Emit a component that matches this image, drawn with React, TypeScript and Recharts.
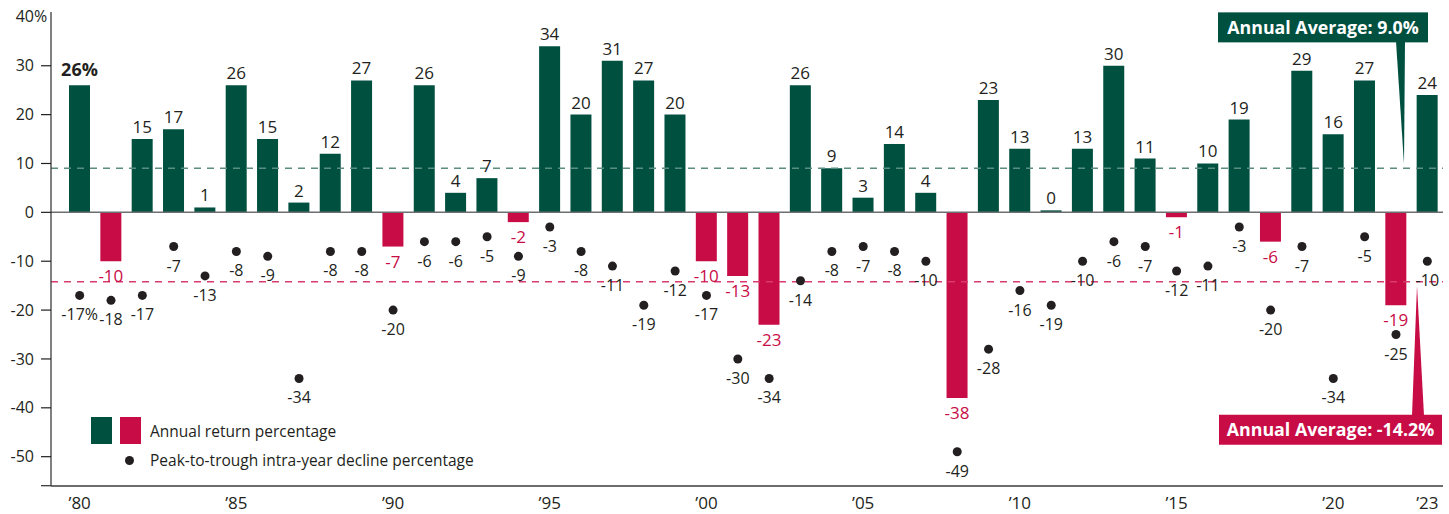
import React from 'react';
import { ComposedChart, Bar, Line, XAxis, YAxis, ReferenceLine, Cell, LabelList } from 'recharts';

const years = [
  1980, 1981, 1982, 1983, 1984, 1985, 1986, 1987, 1988, 1989,
  1990, 1991, 1992, 1993, 1994, 1995, 1996, 1997, 1998, 1999,
  2000, 2001, 2002, 2003, 2004, 2005, 2006, 2007, 2008, 2009,
  2010, 2011, 2012, 2013, 2014, 2015, 2016, 2017, 2018, 2019,
  2020, 2021, 2022, 2023,
];
const annualReturns = [
  26, -10, 15, 17, 1, 26, 15, 2, 12, 27,
  -7, 26, 4, 7, -2, 34, 20, 31, 27, 20,
  -10, -13, -23, 26, 9, 3, 14, 4, -38, 23,
  13, 0, 13, 30, 11, -1, 10, 19, -6, 29,
  16, 27, -19, 24,
];
const intraYearDeclines = [
  -17, -18, -17, -7, -13, -8, -9, -34, -8, -8,
  -20, -6, -6, -5, -9, -3, -8, -11, -19, -12,
  -17, -30, -34, -14, -8, -7, -8, -10, -49, -28,
  -16, -19, -10, -6, -7, -12, -11, -3, -20, -7,
  -34, -5, -25, -10,
];
const yTicks = [-50, -40, -30, -20, -10, 0, 10, 20, 30, 40];
const xTickYears = [1980, 1985, 1990, 1995, 2000, 2005, 2010, 2015, 2020, 2023];
const xTickLabels = ['’80', '’85', '’90', '’95', '’00', '’05', '’10', '’15', '’20', '’23'];
const returnAverage = 9.0;
const declineAverage = -14.2;

const GREEN = '#005040';
const RED = '#c80c46';
const INK = '#231f20';
const FONT = '"Open Sans", sans-serif';

const data = years.map((year, i) => ({
  year,
  ret: annualReturns[i],
  decline: intraYearDeclines[i],
}));

const YTick = (props: any) => {
  const { x, y, payload } = props;
  const v = payload.value;
  return (
    <g>
      {v !== 40 && <line x1={x - 10} x2={x} y1={y} y2={y} stroke={INK} strokeWidth={1.2} />}
      <text x={x - 17} y={y} dy="0.35em" textAnchor="end" fontSize={16} fill={INK} fontFamily={FONT}>
        {v}
      </text>
      {v === 40 && (
        <text x={x - 17} y={y} dy="0.35em" textAnchor="start" fontSize={16} fill={INK} fontFamily={FONT}>
          %
        </text>
      )}
      {/* x axis line runs out to the tick marks on the left */}
      {v === -50 && <line x1={x - 10} x2={x} y1={y + 29} y2={y + 29} stroke="#3c3c3c" strokeWidth={1.3} />}
    </g>
  );
};

const XTick = (props: any) => {
  const { x, y, payload } = props;
  const idx = xTickYears.indexOf(payload.value);
  if (idx < 0) return null;
  return (
    <text x={x} y={y + 17} dy="0.35em" textAnchor="middle" fontSize={17} fill={INK} fontFamily={FONT}>
      {xTickLabels[idx]}
    </text>
  );
};

const ReturnLabel = (props: any) => {
  const { x, y, width, height, value, index } = props;
  const cx = x + width / 2;
  const top = Math.min(y, y + height);
  const bottom = Math.max(y, y + height);
  if (value >= 0) {
    const first = index === 0;
    return (
      <text
        x={cx}
        y={top - (first ? 9 : 6)}
        textAnchor="middle"
        fontSize={first ? 18 : 17}
        fontWeight={first ? 700 : 400}
        fill={INK}
        fontFamily={FONT}
      >
        {first ? `${value}%` : value}
      </text>
    );
  }
  return (
    <text x={cx} y={bottom + 21} textAnchor="middle" fontSize={17} fill={RED} fontFamily={FONT}>
      {value}
    </text>
  );
};

const DeclineLabel = (props: any) => {
  const { x, y, value, index } = props;
  return (
    <text x={x} y={y + 25} textAnchor="middle" fontSize={16} fill={INK} fontFamily={FONT}>
      {index === 0 ? `${value}%` : value}
    </text>
  );
};

const GreenCallout = (props: any) => {
  const { viewBox } = props;
  const right = viewBox.x + viewBox.width;
  const lineY = viewBox.y;
  const boxTop = lineY - 156;
  const boxLeft = right - 225;
  const boxRight = right - 15;
  const tipX = right - 39;
  return (
    <g>
      <polygon points={`${tipX - 8},${boxTop + 29} ${tipX + 1},${boxTop + 29} ${tipX},${lineY - 4}`} fill={GREEN} />
      <rect x={boxLeft} y={boxTop} width={boxRight - boxLeft} height={30} fill={GREEN} />
      <text
        x={(boxLeft + boxRight) / 2}
        y={boxTop + 15}
        dy="0.35em"
        textAnchor="middle"
        fontSize={17.8}
        fontWeight={700}
        fill="#fff"
        fontFamily={FONT}
      >
        Annual Average: {returnAverage.toFixed(1)}%
      </text>
    </g>
  );
};

const RedCallout = (props: any) => {
  const { viewBox } = props;
  const right = viewBox.x + viewBox.width;
  const lineY = viewBox.y;
  const boxTop = lineY + 133;
  const boxLeft = right - 224;
  const boxRight = right - 1;
  const tipX = right - 26;
  return (
    <g>
      <polygon points={`${tipX - 5},${boxTop + 1} ${tipX + 7},${boxTop + 1} ${tipX},${lineY + 4}`} fill={RED} />
      <rect x={boxLeft} y={boxTop} width={boxRight - boxLeft} height={30} fill={RED} />
      <text
        x={(boxLeft + boxRight) / 2}
        y={boxTop + 15}
        dy="0.35em"
        textAnchor="middle"
        fontSize={17.8}
        fontWeight={700}
        fill="#fff"
        fontFamily={FONT}
      >
        Annual Average: {declineAverage.toFixed(1)}%
      </text>
    </g>
  );
};

const LegendBox = () => (
  <div style={{ position: 'absolute', left: 91, top: 417, fontFamily: FONT, fontSize: 15.5, color: INK }}>
    <div style={{ display: 'flex', alignItems: 'center', height: 27 }}>
      <span style={{ width: 21, height: 27, background: GREEN, display: 'inline-block' }} />
      <span style={{ width: 21, height: 27, background: RED, display: 'inline-block', marginLeft: 8 }} />
      <span style={{ marginLeft: 9 }}>Annual return percentage</span>
    </div>
    <div style={{ display: 'flex', alignItems: 'center', height: 30, marginTop: 1 }}>
      <span
        style={{
          width: 9,
          height: 9,
          borderRadius: '50%',
          background: INK,
          display: 'inline-block',
          marginLeft: 34,
        }}
      />
      <span style={{ marginLeft: 16 }}>Peak-to-trough intra-year decline percentage</span>
    </div>
  </div>
);

const App: React.FC = () => {
  return (
    <div style={{ position: 'absolute', left: 0, top: 0, width: 1449, height: 514, background: '#fff' }}>
      <ComposedChart width={1449} height={514} data={data} margin={{ top: 12, right: 6, bottom: 0, left: 0 }}>
        <XAxis
          dataKey="year"
          interval={0}
          tick={<XTick />}
          tickLine={false}
          tickSize={0}
          tickMargin={0}
          height={28}
          padding={{ left: 13, right: 0 }}
          axisLine={{ stroke: '#3c3c3c', strokeWidth: 1.3 }}
        />
        <YAxis
          type="number"
          domain={[-56, 41]}
          ticks={yTicks}
          width={51}
          tick={<YTick />}
          tickLine={false}
          tickSize={0}
          tickMargin={0}
          axisLine={{ stroke: '#3c3c3c', strokeWidth: 1.3 }}
          allowDataOverflow
        />
        <ReferenceLine y={0} stroke="#6d6e70" strokeWidth={1.5} />
        <ReferenceLine
          y={returnAverage}
          stroke="#5b8e80"
          strokeWidth={1.5}
          strokeDasharray="7 6"
          label={<GreenCallout />}
        />
        <ReferenceLine
          y={declineAverage}
          stroke="#d83c6c"
          strokeWidth={1.5}
          strokeDasharray="7 6"
          label={<RedCallout />}
        />
        <Bar dataKey="ret" barSize={21} minPointSize={2} isAnimationActive={false}>
          {data.map((d) => (
            <Cell key={d.year} fill={d.ret < 0 ? RED : GREEN} />
          ))}
          <LabelList dataKey="ret" content={<ReturnLabel />} />
        </Bar>
        <Line
          dataKey="decline"
          stroke="none"
          isAnimationActive={false}
          activeDot={false}
          dot={{ r: 4.5, fill: INK, stroke: 'none' }}
        >
          <LabelList dataKey="decline" content={<DeclineLabel />} />
        </Line>
      </ComposedChart>
      <LegendBox />
    </div>
  );
};

export default App;
